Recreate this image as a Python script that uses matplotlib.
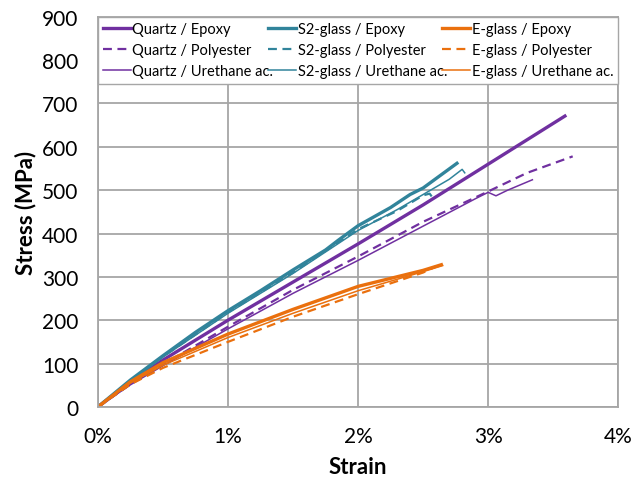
import matplotlib
matplotlib.use('Agg')
from matplotlib import pyplot as plt

# strain in %, stress in MPa
qe_x = [0, 0.25, 0.5, 1.0, 1.5, 2.0, 2.5, 3.0, 3.59]
qe_y = [0, 56, 108, 200, 288, 376, 466, 560, 671]
qp_x = [0, 0.25, 0.5, 1.0, 1.5, 2.0, 2.5, 3.0, 3.3, 3.65]
qp_y = [0, 52, 98, 185, 270, 347, 427, 497, 540, 578]
qu_x = [0, 0.25, 0.5, 1.0, 1.5, 2.0, 2.5, 2.9, 3.0, 3.06, 3.15, 3.34]
qu_y = [0, 51, 95, 180, 262, 338, 417, 480, 495, 487, 500, 524]

se_x = [0, 0.25, 0.5, 0.75, 1.0, 1.25, 1.5, 1.75, 1.85, 2.0, 2.25, 2.4, 2.5, 2.76]
se_y = [0, 62, 118, 172, 222, 268, 316, 362, 385, 418, 460, 490, 505, 562]
sp_x = [0, 0.25, 0.5, 1.0, 1.5, 2.0, 2.3, 2.5, 2.55, 2.57]
sp_y = [0, 60, 116, 218, 310, 410, 452, 488, 492, 484]
su_x = [0, 0.25, 0.5, 1.0, 1.5, 2.0, 2.3, 2.5, 2.7, 2.8, 2.82]
su_y = [0, 60, 115, 216, 308, 407, 455, 490, 525, 548, 540]

ee_x = [0, 0.25, 0.5, 1.0, 1.5, 2.0, 2.5, 2.64]
ee_y = [0, 58, 102, 168, 225, 278, 315, 328]
ep_x = [0, 0.25, 0.5, 1.0, 1.5, 2.0, 2.5, 2.6]
ep_y = [0, 52, 90, 150, 208, 260, 310, 324]
eu_x = [0, 0.25, 0.5, 1.0, 1.5, 2.0, 2.5, 2.65]
eu_y = [0, 55, 96, 160, 216, 268, 312, 326]

purple = '#7030A0'
teal = '#31849B'
orange = '#EA700E'

plt.rcParams['font.family'] = ['Lato', 'DejaVu Sans']

fig = plt.figure(figsize=(6.4, 4.81), dpi=100)
ax = fig.add_axes([0.153, 0.152, 0.813, 0.811])

dash = (0, (4, 2.5))
ax.plot(qe_x, qe_y, color=purple, lw=2.4, label='Quartz / Epoxy')
ax.plot(qp_x, qp_y, color=purple, lw=1.6, linestyle=dash, label='Quartz / Polyester')
ax.plot(qu_x, qu_y, color=purple, lw=1.1, label='Quartz / Urethane ac.')
ax.plot(se_x, se_y, color=teal, lw=2.4, label='S2-glass / Epoxy')
ax.plot(sp_x, sp_y, color=teal, lw=1.6, linestyle=dash, label='S2-glass / Polyester')
ax.plot(su_x, su_y, color=teal, lw=1.1, label='S2-glass / Urethane ac.')
ax.plot(ee_x, ee_y, color=orange, lw=2.4, label='E-glass / Epoxy')
ax.plot(ep_x, ep_y, color=orange, lw=1.6, linestyle=dash, label='E-glass / Polyester')
ax.plot(eu_x, eu_y, color=orange, lw=1.1, label='E-glass / Urethane ac.')

ax.set_xlim(0, 4)
ax.set_ylim(0, 900)
ax.set_xticks([0, 1, 2, 3, 4])
ax.set_xticklabels(['0%', '1%', '2%', '3%', '4%'])
ax.set_yticks(range(0, 901, 100))
ax.tick_params(length=0, labelsize=15)
ax.tick_params(axis='x', pad=14)
ax.tick_params(axis='y', pad=14)
ax.grid(True, color='#A6A6A6', lw=1.3)
ax.set_axisbelow(True)
for s in ax.spines.values():
    s.set_color('#A6A6A6')
    s.set_linewidth(1.3)

ax.set_xlabel('Strain', fontsize=16, fontweight='bold', labelpad=7)
ax.set_ylabel('Stress (MPa)', fontsize=16, fontweight='bold', labelpad=4)

leg = ax.legend(ncol=3, loc='upper left', bbox_to_anchor=(0, 1, 1, 0), mode='expand',
                fontsize=10.5, handlelength=1.9, handletextpad=0.1, columnspacing=0.2,
                labelspacing=0.5, borderaxespad=0, borderpad=0.35,
                fancybox=False, framealpha=1, edgecolor='#A6A6A6')
leg.get_frame().set_linewidth(1.0)

fig.savefig('out.png', dpi=100)
